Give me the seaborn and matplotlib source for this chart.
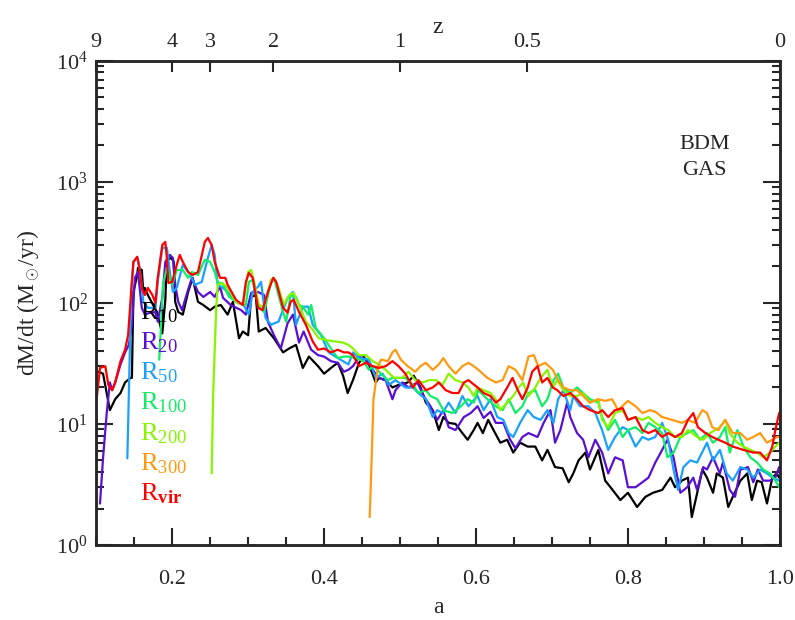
import numpy as np
import pandas as pd
import matplotlib
matplotlib.use("Agg")
import matplotlib.pyplot as plt
import seaborn as sns
from matplotlib.ticker import MultipleLocator, FixedLocator, LogLocator, NullFormatter

# values (a = scale factor, dM/dt in Msun/yr)
a_r10 = [.103, .109, .118, .125, .132, .138, .145, .147, .149, .154, .155, .160, .162, .164, .168, .175, .180, .184, .187,
         .191, .193, .199, .202, .204, .208, .214, .221, .227, .234, .241, .250, .256, .264, .273, .280, .288, .293, .300,
         .304, .310, .314, .323, .334, .346, .354, .363, .372, .380, .392, .400, .409, .418, .425, .431, .438, .446, .452,
         .459, .468, .472, .481, .490, .498, .510, .518, .527, .534, .543, .551, .557, .564, .573, .582, .589, .597, .602,
         .609, .616, .623, .632, .641, .649, .658, .668, .678, .687, .694, .704, .714, .722, .728, .735, .744, .750, .761,
         .770, .777, .790, .800, .812, .823, .833, .845, .856, .862, .871, .879, .884, .888, .898, .904, .912, .917, .925,
         .932, .938, .948, .957, .963, .970, .976, .983, .990, .996, .999]
v_r10 = [27, 26, 13, 16, 18, 22, 24, 24, 123, 170, 195, 187, 123, 133, 116, 96, 84, 66, 56,
         106, 227, 235, 218, 102, 84, 80, 123, 161, 102, 96, 87, 93, 96, 80, 102, 51, 58, 54,
         112, 116, 58, 62, 51, 39, 42, 45, 29, 36, 30, 26, 29, 32, 25, 18, 23, 32, 36,
         31, 22, 24, 23, 20, 21, 22, 25, 20, 15, 13, 8.9, 11.4, 10.2, 10, 8.4, 7.4, 8.9, 10.2,
         8.4, 10.8, 8.9, 7.0, 7.4, 5.8, 7.0, 6.5, 6.5, 5.0, 6.1, 4.4, 4.3, 3.3, 3.9, 5.0, 5.8, 4.2, 6.1,
         3.4, 3.0, 2.35, 2.7, 2.06, 2.5, 2.7, 2.85, 3.6, 3.0, 3.4, 3.6, 1.7, 2.2, 4.2, 3.6, 2.7, 3.9, 3.6,
         2.06, 2.5, 3.4, 3.9, 2.35, 3.4, 3.3, 2.2, 3.6, 3.9, 3.6]

a_r20 = [.105, .109, .114, .118, .121, .125, .132, .138, .143, .147, .151, .155, .160, .164, .171, .178, .181, .187, .191,
         .197, .201, .204, .208, .213, .220, .226, .234, .241, .250, .256, .263, .267, .277, .291, .297, .304, .313, .321,
         .326, .334, .343, .352, .359, .367, .373, .383, .392, .400, .409, .418, .426, .432, .438, .446, .455, .464, .472,
         .481, .490, .494, .503, .511, .523, .531, .540, .549, .557, .564, .573, .584, .593, .602, .610, .619, .626, .636,
         .645, .652, .661, .669, .681, .689, .698, .704, .711, .720, .724, .733, .741, .748, .757, .766, .774, .783, .793,
         .800, .810, .819, .827, .836, .845, .852, .860, .869, .878, .886, .891, .899, .904, .912, .921, .925, .934, .941,
         .948, .958, .965, .971, .978, .987, .994, .999]
v_r20 = [2.2, 5.2, 12.6, 22, 19, 22, 31, 39, 45, 66, 161, 180, 91, 80, 83, 84, 70, 110, 218,
         249, 235, 141, 102, 87, 123, 161, 123, 112, 123, 112, 136, 110, 96, 87, 80, 121, 123, 116,
         70, 54, 42, 68, 80, 47, 58, 41, 37, 36, 33, 32, 27, 28, 30, 36, 34, 28, 24,
         23, 16, 19, 22, 20, 22, 17, 14, 10.8, 13, 9.4, 8.9, 11.4, 12.3, 14, 11.2, 12.6, 10.2, 10.2,
         7.4, 6.3, 7.8, 8.4, 7.8, 10.2, 13, 7.0, 8.9, 15, 11.4, 8.4, 7.4, 5.3, 7.4, 5.8, 3.9, 5.3, 5.0,
         3.0, 3.0, 3.3, 3.6, 4.8, 6.1, 7.4, 5.3, 2.7, 3.0, 3.6, 2.85, 4.4, 4.2, 5.3, 3.9, 4.8, 2.85, 2.5,
         4.2, 4.4, 3.3, 4.2, 3.4, 3.4, 3.6, 4.4]

a_r50 = [.141, .143, .146, .149, .154, .158, .162, .168, .178, .181, .187, .193, .197, .201, .206, .214, .224, .230, .239,
         .247, .252, .256, .260, .267, .273, .284, .294, .301, .306, .313, .317, .323, .330, .340, .352, .359, .363, .372,
         .379, .385, .396, .406, .415, .425, .432, .438, .446, .459, .468, .477, .485, .494, .507, .517, .524, .534, .543,
         .549, .556, .564, .573, .582, .590, .602, .610, .619, .628, .636, .643, .649, .658, .668, .676, .685, .694, .702,
         .708, .715, .724, .728, .737, .748, .757, .766, .774, .783, .793, .800, .810, .819, .827, .836, .845, .853, .860,
         .866, .873, .882, .891, .904, .912, .921, .930, .938, .948, .957, .965, .974, .983, .991, .999]
v_r50 = [5.2, 18, 123, 218, 240, 180, 102, 91, 91, 149, 285, 285, 180, 123, 133, 206, 170, 141, 149,
         235, 301, 249, 141, 133, 123, 102, 96, 80, 123, 136, 149, 75, 66, 70, 110, 123, 66, 93,
         93, 66, 54, 39, 36, 33, 31, 39, 35, 34, 24, 26, 21, 23, 20, 20, 18, 16, 11.4,
         13, 12.3, 15, 12.3, 17, 14, 17, 13, 16, 11.4, 10.8, 8.4, 7.8, 10.2, 13, 11.4, 10.8, 13, 10.2,
         16, 19, 13, 17, 14, 14, 12.3, 8.9, 6.1, 7.8, 9.4, 8.9, 6.5, 7.8, 7.4, 7.8, 10.2, 7.4, 4.2,
         2.85, 4.4, 5.0, 4.8, 7.0, 5.0, 6.1, 3.9, 3.4, 4.4, 4.2, 3.6, 4.2, 3.9, 3.6, 3.4]

a_r100 = [.183, .185, .188, .193, .200, .206, .214, .221, .226, .234, .243, .250, .256, .260, .266, .275, .287, .297, .301,
          .306, .313, .321, .330, .334, .340, .346, .350, .356, .363, .367, .372, .379, .383, .389, .400, .409, .418, .426,
          .432, .442, .452, .459, .465, .475, .484, .490, .498, .507, .517, .524, .534, .540, .549, .557, .569, .580, .589,
          .597, .603, .615, .626, .635, .643, .652, .661, .669, .678, .687, .694, .702, .708, .715, .724, .733, .741, .750,
          .761, .766, .774, .783, .793, .800, .810, .819, .827, .836, .845, .852, .860, .869, .878, .886, .895, .904, .912,
          .921, .928, .934, .944, .952, .961, .970, .978, .987, .994, .999]
v_r100 = [34, 60, 141, 195, 141, 187, 187, 161, 180, 170, 227, 218, 180, 146, 146, 112, 100, 96, 149,
          155, 96, 84, 146, 161, 116, 84, 70, 116, 112, 96, 93, 80, 96, 62, 51, 42, 35, 36,
          36, 35, 33, 28, 30, 26, 23, 24, 24, 24, 21, 18, 19, 17, 16, 13, 12.3, 14, 16,
          15, 19, 16, 14, 13, 16, 12.3, 14, 18, 19, 14, 16, 23, 26, 20, 18, 20, 18, 16,
          15, 11.4, 8.9, 10.8, 7.8, 8.9, 9.4, 8.4, 10.2, 9.4, 8.4, 5.3, 5.8, 7.8, 8.4, 8.9, 7.4, 8.4, 7.0,
          7.8, 9.4, 5.8, 8.9, 6.5, 5.3, 4.8, 4.2, 3.9, 3.4, 3.0]

a_r200 = [.252, .254, .258, .260, .266, .273, .284, .293, .300, .304, .308, .314, .321, .330, .334, .340, .347, .354, .360,
          .367, .376, .385, .393, .405, .415, .425, .432, .438, .446, .455, .464, .472, .481, .492, .503, .511, .520, .530,
          .538, .547, .556, .564, .573, .582, .590, .597, .602, .610, .619, .626, .632, .641, .649, .656, .662, .669, .678,
          .685, .694, .701, .707, .715, .724, .733, .741, .750, .761, .766, .774, .783, .793, .800, .810, .819, .827, .836,
          .845, .853, .862, .871, .879, .891, .899, .908, .921, .928, .934, .944, .952, .961, .970, .978, .987, .994, .999]
v_r200 = [3.9, 18, 91, 141, 146, 133, 102, 96, 180, 187, 149, 96, 93, 155, 161, 133, 96, 116, 121,
          96, 70, 60, 51, 49, 48, 47, 45, 42, 37, 37, 33, 31, 28, 24, 24, 27, 23, 22,
          23, 23, 21, 26, 23, 22, 20, 17, 20, 19, 18, 16, 13, 15, 17, 20, 22, 17, 20,
          24, 28, 20, 23, 19, 17, 17, 18, 15, 16, 10.8, 9.4, 12.3, 13, 10.8, 11.4, 10.8, 11.4, 10.2,
          9.4, 8.9, 7.8, 7.8, 8.9, 7.8, 7.4, 8.4, 9.4, 10.8, 8.4, 7.0, 6.5, 6.1, 5.8, 5.3, 5.8, 6.5, 7.0]

a_r300 = [.460, .463, .465, .471, .475, .484, .490, .494, .501, .510, .520, .527, .534, .543, .551, .557, .564, .573, .582,
          .590, .597, .603, .615, .626, .635, .643, .652, .661, .669, .676, .682, .691, .701, .708, .715, .724, .733, .741,
          .750, .761, .770, .779, .787, .800, .810, .819, .829, .836, .845, .858, .871, .879, .888, .898, .904, .911, .919,
          .928, .938, .948, .957, .965, .974, .983, .990, .996, .999]
v_r300 = [1.7, 6.1, 16, 30, 34, 33, 39, 41, 34, 30, 27, 30, 32, 28, 31, 35, 30, 26, 30,
          32, 30, 28, 24, 22, 23, 30, 28, 23, 36, 37, 30, 32, 28, 23, 20, 19, 19, 17,
          15, 16, 15.5, 16, 13, 15.5, 14, 12.3, 13, 12.6, 11.4, 10.8, 10.2, 10.8, 10.2, 13, 12.3, 9.4, 8.9,
          10.8, 8.4, 8.4, 7.4, 7.8, 8.4, 7.0, 7.4, 7.8, 7.8]

a_rvir = [.101, .105, .112, .116, .121, .125, .132, .138, .142, .146, .149, .154, .157, .160, .164, .168, .174, .178, .181,
          .187, .191, .193, .195, .200, .206, .210, .214, .221, .227, .234, .243, .247, .252, .256, .263, .270, .273, .284,
          .293, .297, .301, .306, .313, .319, .326, .333, .337, .346, .352, .356, .360, .367, .376, .385, .392, .400, .409,
          .418, .426, .432, .438, .446, .455, .464, .472, .481, .490, .498, .507, .517, .524, .534, .543, .551, .560, .569,
          .577, .584, .590, .602, .610, .619, .626, .632, .641, .648, .655, .661, .668, .674, .681, .687, .694, .701, .707,
          .715, .724, .733, .741, .750, .761, .766, .774, .783, .793, .800, .810, .819, .827, .836, .845, .853, .862, .871,
          .879, .886, .892, .902, .911, .919, .928, .938, .952, .965, .974, .983, .990, .994, .999]
v_rvir = [17, 29, 30, 21, 19, 22, 33, 41, 54, 123, 218, 240, 195, 133, 116, 133, 116, 100, 161,
          301, 319, 235, 146, 149, 206, 249, 218, 180, 170, 180, 319, 344, 301, 218, 161, 161, 141, 106,
          96, 149, 177, 161, 91, 87, 123, 161, 149, 91, 83, 102, 106, 84, 66, 48, 41, 42, 39,
          41, 39, 39, 37, 30, 32, 30, 29, 30, 33, 30, 26, 20, 23, 19, 20, 22, 19, 18,
          18, 22, 23, 20, 18, 17, 15, 16, 20, 24, 19, 16, 20, 27, 30, 22, 24, 20, 19,
          17, 18, 16, 14, 13, 12.3, 13, 11.4, 13, 13.5, 10.8, 11.4, 8.9, 8.4, 8.9, 7.8, 8.4, 7.8, 8.4,
          10.8, 12.3, 9.4, 8.4, 7.8, 7.4, 7.0, 6.5, 6.1, 5.8, 5.8, 5.0, 6.5, 8.9, 12.3]

labels = ["R10", "R20", "R50", "R100", "R200", "R300", "Rvir"]
tex_labels = [r"R$_{\mathrm{10}}$", r"R$_{\mathrm{20}}$", r"R$_{\mathrm{50}}$", r"R$_{\mathrm{100}}$",
              r"R$_{\mathrm{200}}$", r"R$_{\mathrm{300}}$", r"R$_{\mathbf{vir}}$"]
colors = ["#000000", "#5a10d2", "#1aa0ff", "#10ee66", "#88f400", "#ff9a10", "#ff0000"]

z_ticks = [9, 4, 3, 2, 1, 0.5, 0]
z_labels = ["9", "4", "3", "2", "1", "0.5", "0"]

series = [(a_r10, v_r10), (a_r20, v_r20), (a_r50, v_r50), (a_r100, v_r100),
          (a_r200, v_r200), (a_r300, v_r300), (a_rvir, v_rvir)]
frames = []
for lab, (aa, vv) in zip(labels, series):
    frames.append(pd.DataFrame({"a": aa, "dMdt": vv, "radius": lab}))
df = pd.concat(frames, ignore_index=True)

sns.set_style("ticks")
plt.rcParams["font.family"] = ["Liberation Serif", "DejaVu Serif"]
plt.rcParams["mathtext.fontset"] = "custom"
plt.rcParams["mathtext.rm"] = "Liberation Serif"
plt.rcParams["mathtext.it"] = "Liberation Serif:italic"
plt.rcParams["mathtext.bf"] = "Liberation Serif:bold"

fig = plt.figure(figsize=(7.95, 6.2), dpi=100)
ax = fig.add_axes([0.121, 0.121, 0.860, 0.781])

sns.lineplot(data=df, x="a", y="dMdt", hue="radius", hue_order=labels, palette=colors,
             estimator=None, sort=False, legend=False, linewidth=1.6, ax=ax)

ax.set_yscale("log")
ax.set_xlim(0.1, 1.0)
ax.set_ylim(1, 1e4)
ax.xaxis.set_major_locator(MultipleLocator(0.2))
ax.xaxis.set_minor_locator(MultipleLocator(0.05))
ax.yaxis.set_major_locator(LogLocator(base=10, numticks=10))
ax.yaxis.set_minor_locator(LogLocator(base=10, subs=np.arange(2, 10), numticks=10))
ax.yaxis.set_minor_formatter(NullFormatter())
ax.set_xticklabels([f"{t:.1f}" for t in ax.get_xticks()])

ax.tick_params(axis="both", which="both", direction="in", labelsize=16, width=1.5)
ax.tick_params(axis="y", which="both", right=True)
ax.tick_params(axis="x", which="both", top=False, pad=18)
ax.tick_params(axis="y", pad=6)
ax.tick_params(which="major", length=12)
ax.tick_params(which="minor", length=6)
for sp in ax.spines.values():
    sp.set_linewidth(1.8)

ax.set_xlabel("a", fontsize=17, labelpad=6)
ax.set_ylabel(r"dM/dt (M$_\odot$/yr)", fontsize=17, labelpad=10)

# redshift axis on top
ax2 = ax.twiny()
ax2.set_xlim(ax.get_xlim())
ax2.xaxis.set_major_locator(FixedLocator([1.0 / (1.0 + z) for z in z_ticks]))
ax2.set_xticklabels(z_labels)
ax2.xaxis.set_minor_locator(FixedLocator([]))
ax2.tick_params(axis="x", direction="in", length=8, width=1.5, labelsize=16, pad=6)
ax2.set_xlabel("z", fontsize=17, labelpad=0)
for sp in ax2.spines.values():
    sp.set_linewidth(1.8)

for i, (txt, c) in enumerate(zip(tex_labels, colors)):
    ax.text(0.064, 0.465 - 0.062 * i, txt, color=c, fontsize=19, transform=ax.transAxes,
            ha="left", va="baseline")

ax.text(0.89, 0.80, "BDM\nGAS", fontsize=16, ha="center", va="center", transform=ax.transAxes,
        linespacing=1.45)

fig.savefig("out.png", dpi=100)
